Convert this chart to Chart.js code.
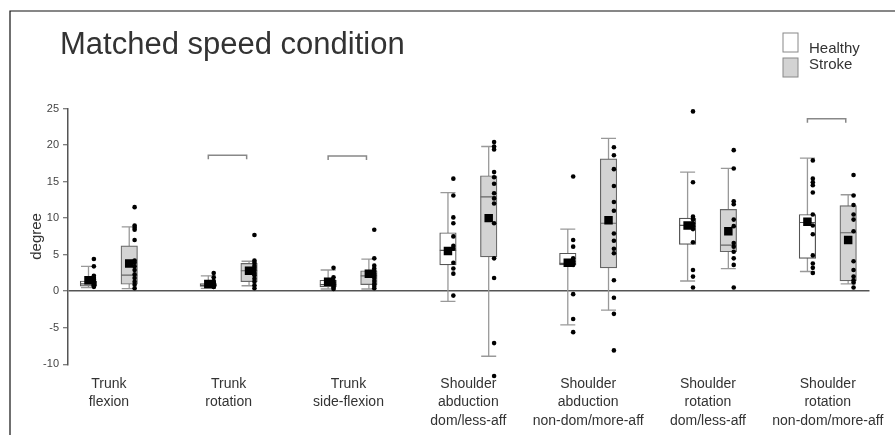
<!DOCTYPE html>
<html>
<head>
<meta charset="utf-8">
<script src="https://cdn.jsdelivr.net/npm/chart.js@4.4.1/dist/chart.umd.min.js"></script>
<style>
  html, body { margin: 0; padding: 0; background: #fff; }
  #wrap { width: 895px; height: 435px; position: relative; }
</style>
</head>
<body>
<div id="wrap"><canvas id="chart"></canvas></div>
<script>
const FONT = '"Liberation Sans", Arial, sans-serif';

const titleText = 'Matched speed condition';
const groupNames = ['Healthy', 'Stroke'];
const categories = [
  ['Trunk', 'flexion'],
  ['Trunk', 'rotation'],
  ['Trunk', 'side-flexion'],
  ['Shoulder', 'abduction', 'dom/less-aff'],
  ['Shoulder', 'abduction', 'non-dom/more-aff'],
  ['Shoulder', 'rotation', 'dom/less-aff'],
  ['Shoulder', 'rotation', 'non-dom/more-aff']
];
const yTicks = { min: -10, max: 25, step: 5 };

// box plot summaries (degrees)
const healthyMin    = [0.5, 0.4, 0.3, -1.4, -4.6, 1.4, 2.7];
const healthyQ1     = [0.7, 0.65, 0.6, 3.6, 3.6, 6.4, 4.5];
const healthyMedian = [1.0, 0.8, 0.9, 5.6, 3.8, 9.0, 9.4];
const healthyQ3     = [1.4, 1.05, 1.5, 8.0, 5.2, 10.0, 10.5];
const healthyMax    = [3.4, 2.1, 2.9, 13.5, 8.5, 16.3, 18.2];
const healthyMean   = [1.5, 1.0, 1.3, 5.5, 3.9, 9.0, 9.5];

const strokeMin    = [0.35, 0.75, 0.3, -8.9, -2.6, 3.1, 1.0];
const strokeQ1     = [0.95, 1.3, 0.9, 4.7, 3.2, 5.4, 1.4];
const strokeMedian = [2.2, 2.8, 2.1, 12.9, 9.3, 6.3, 8.0];
const strokeQ3     = [6.2, 3.8, 2.8, 15.8, 18.1, 11.2, 11.7];
const strokeMax    = [8.8, 4.1, 4.4, 19.8, 20.9, 16.8, 13.2];
const strokeMean   = [3.8, 2.8, 2.4, 10.0, 9.7, 8.2, 7.0];

// individual subjects
const healthyPoints = [
  [4.4, 3.4, 2.1, 1.8, 1.6, 1.4, 1.3, 1.2, 1.0, 0.9, 0.8, 0.7, 0.6],
  [2.5, 1.9, 1.4, 1.2, 1.1, 1.0, 0.9, 0.8, 0.8, 0.7, 0.6, 0.6],
  [3.2, 1.9, 1.4, 1.2, 1.0, 0.9, 0.7, 0.5, 0.3],
  [15.4, 13.1, 10.1, 9.3, 7.5, 6.2, 5.8, 3.9, 3.1, 2.4, -0.6],
  [15.7, 7.0, 6.1, 4.5, 4.1, 3.8, 3.6, -0.4, -3.8, -5.6],
  [24.6, 14.9, 10.2, 9.8, 9.3, 8.9, 8.5, 6.7, 2.9, 2.0, 0.5],
  [17.9, 15.4, 14.9, 14.5, 13.5, 10.5, 9.0, 7.8, 4.9, 3.8, 3.2, 2.5]
];
const strokePoints = [
  [11.5, 9.0, 8.7, 8.4, 7.0, 4.2, 3.9, 3.4, 2.9, 2.3, 1.8, 1.3, 0.9, 0.4],
  [7.7, 4.2, 3.9, 3.5, 3.2, 2.9, 2.5, 2.2, 1.7, 1.3, 0.8, 0.4],
  [8.4, 4.5, 3.5, 3.1, 2.8, 2.4, 2.1, 1.8, 1.4, 1.0, 0.7, 0.4],
  [20.4, 19.8, 19.4, 16.3, 15.6, 14.7, 13.4, 12.7, 12.0, 9.3, 4.5, 1.8, -7.1, -11.6],
  [19.7, 18.6, 16.7, 14.4, 12.2, 11.0, 7.9, 6.9, 5.8, 5.2, 1.5, -0.9, -3.1, -8.1],
  [19.3, 16.8, 12.3, 11.9, 9.8, 8.9, 6.6, 6.1, 5.4, 4.5, 3.6, 0.5],
  [15.9, 13.1, 11.8, 10.5, 9.8, 8.2, 4.1, 2.9, 2.0, 1.5, 1.2, 0.5]
];

// significance brackets: category index and height
const bracketCats    = [1, 2, 3, 4, 6];
const bracketHeights = [18.6, 18.5, 27.2, 27.2, 23.6];

const SIDE = 0.17;      // half distance between the two boxes of a category
const DOT_SHIFT = 0.045;
const BRACKET_DROP = 0.55;

function boxData(q1, q3, side) {
  return q1.map((v, i) => ({ x: i + side * SIDE, y: [v, q3[i]] }));
}
function whiskerData(lo, hi, side) {
  const out = [];
  lo.forEach((v, i) => {
    const x = i + side * SIDE;
    out.push({ x: x, y: v }, { x: x, y: hi[i] }, { x: x, y: null });
  });
  return out;
}
function pointData(vals, side, shift) {
  return vals.map((v, i) => ({ x: i + side * SIDE + shift, y: v }));
}
function dotData(lists, side) {
  const out = [];
  lists.forEach((list, i) => {
    list.forEach(v => out.push({ x: i + side * SIDE + DOT_SHIFT, y: v }));
  });
  return out;
}
function bracketData() {
  const out = [];
  bracketCats.forEach((c, k) => {
    const h = bracketHeights[k];
    const x1 = c - SIDE, x2 = c + SIDE - 0.02;
    out.push({ x: x1, y: h - BRACKET_DROP }, { x: x1, y: h }, { x: x2, y: h },
             { x: x2, y: h - BRACKET_DROP }, { x: x2, y: null });
  });
  return out;
}

const boxColors = ['#ffffff', '#d3d3d3'];

const decor = {
  id: 'decor',
  beforeDraw(chart) {
    const ctx = chart.ctx;
    ctx.save();
    ctx.fillStyle = '#fff';
    ctx.fillRect(0, 0, chart.width, chart.height);
    ctx.strokeStyle = '#111';
    ctx.lineWidth = 1.2;
    ctx.beginPath();
    ctx.moveTo(10, chart.height);
    ctx.lineTo(10, 11);
    ctx.lineTo(chart.width, 11);
    ctx.stroke();
    ctx.restore();
  },
  afterDatasetsDraw(chart) {
    // subject dots that fall below the axis range are still shown in the figure
    const area = chart.chartArea;
    const full = { left: 0, top: 0, right: chart.width, bottom: chart.height };
    chart.data.datasets.forEach((ds, i) => {
      if (ds.clip !== false) return;
      chart.getDatasetMeta(i).data.forEach(el => {
        if (el.y > area.bottom || el.y < area.top) el.draw(chart.ctx, full);
      });
    });
  },
  afterDraw(chart) {
    const ctx = chart.ctx;
    ctx.save();
    ctx.fillStyle = '#333';
    ctx.font = '31px ' + FONT;
    ctx.textBaseline = 'alphabetic';
    ctx.fillText(titleText, 60, 54);

    // legend
    ctx.font = '15px ' + FONT;
    groupNames.forEach((name, k) => {
      ctx.fillStyle = boxColors[k];
      ctx.fillRect(783, 33 + k * 25, 15, 19);
      ctx.strokeStyle = '#888';
      ctx.lineWidth = 1;
      ctx.strokeRect(783, 33 + k * 25, 15, 19);
      ctx.fillStyle = '#333';
      ctx.fillText(name, 809, 53 + k * 16);
    });
    ctx.restore();
  }
};

const ctx = document.getElementById('chart').getContext('2d');
new Chart(ctx, {
  type: 'scatter',
  data: {
    datasets: [
      {
        type: 'line', label: 'brackets', data: bracketData(), order: 1,
        borderColor: '#888', borderWidth: 1.5, pointRadius: 0, spanGaps: false, fill: false
      },
      {
        label: 'Healthy mean', data: pointData(healthyMean, -1, 0), order: 2,
        pointStyle: 'rect', pointRadius: 6, backgroundColor: '#000', borderColor: '#000', borderWidth: 0
      },
      {
        label: 'Stroke mean', data: pointData(strokeMean, 1, 0), order: 2,
        pointStyle: 'rect', pointRadius: 6, backgroundColor: '#000', borderColor: '#000', borderWidth: 0
      },
      {
        label: 'Healthy subjects', data: dotData(healthyPoints, -1), order: 3, clip: false,
        pointRadius: 2.3, backgroundColor: '#000', borderColor: '#000', borderWidth: 0
      },
      {
        label: 'Stroke subjects', data: dotData(strokePoints, 1), order: 3, clip: false,
        pointRadius: 2.3, backgroundColor: '#000', borderColor: '#000', borderWidth: 0
      },
      {
        label: 'Healthy median', data: pointData(healthyMedian, -1, 0), order: 4,
        pointStyle: 'line', pointRadius: 8.2, borderColor: '#555', borderWidth: 1.2
      },
      {
        label: 'Stroke median', data: pointData(strokeMedian, 1, 0), order: 4,
        pointStyle: 'line', pointRadius: 8.2, borderColor: '#666', borderWidth: 1.2
      },
      {
        type: 'bar', label: 'Healthy', data: boxData(healthyQ1, healthyQ3, -1), order: 5,
        backgroundColor: boxColors[0], borderColor: '#555', borderWidth: 1.2, borderSkipped: false,
        grouped: false, barThickness: 16.5, maxBarThickness: 16.5
      },
      {
        type: 'bar', label: 'Stroke', data: boxData(strokeQ1, strokeQ3, 1), order: 5,
        backgroundColor: boxColors[1], borderColor: '#666', borderWidth: 1.2, borderSkipped: false,
        grouped: false, barThickness: 16.5, maxBarThickness: 16.5
      },
      {
        type: 'line', label: 'Healthy whiskers', data: whiskerData(healthyMin, healthyMax, -1), order: 6,
        borderColor: '#999', borderWidth: 1.3, pointStyle: 'line', pointRadius: 7.5,
        pointBorderColor: '#999', pointBorderWidth: 1.3, spanGaps: false, fill: false
      },
      {
        type: 'line', label: 'Stroke whiskers', data: whiskerData(strokeMin, strokeMax, 1), order: 6,
        borderColor: '#999', borderWidth: 1.3, pointStyle: 'line', pointRadius: 7.5,
        pointBorderColor: '#999', pointBorderWidth: 1.3, spanGaps: false, fill: false
      }
    ]
  },
  options: {
    responsive: true,
    maintainAspectRatio: false,
    animation: false,
    events: [],
    layout: { padding: { top: 108.5, right: 23, bottom: 0, left: 0 } },
    plugins: {
      legend: { display: false },
      tooltip: { enabled: false },
      title: { display: false }
    },
    scales: {
      x: {
        type: 'linear', min: -0.341, max: 6.348, offset: false,
        afterFit: s => { s.height = 70.7; },
        afterBuildTicks: s => { s.ticks = categories.map((c, i) => ({ value: i })); },
        grid: { display: false, drawTicks: false, offset: false },
        border: { display: false },
        ticks: {
          autoSkip: false, maxRotation: 0, minRotation: 0, padding: 10.5,
          color: '#333', font: { size: 14, family: FONT, lineHeight: 1.32 },
          callback: (v, i) => categories[i]
        }
      },
      y: {
        min: yTicks.min, max: yTicks.max,
        afterFit: s => { s.width = 68; },
        ticks: { stepSize: yTicks.step, color: '#444', font: { size: 11, family: FONT }, padding: 4 },
        grid: {
          color: c => (c.tick && c.tick.value === 0) ? '#555' : 'rgba(0,0,0,0)',
          lineWidth: 1.5, drawTicks: true, tickLength: 5, tickColor: '#555', tickWidth: 1
        },
        border: { display: true, color: '#555', width: 1.5 },
        title: {
          display: true, text: 'degree', color: '#333',
          font: { size: 15, family: FONT }, padding: { top: 28, bottom: 0 }
        }
      }
    }
  },
  plugins: [decor]
});
</script>
</body>
</html>
